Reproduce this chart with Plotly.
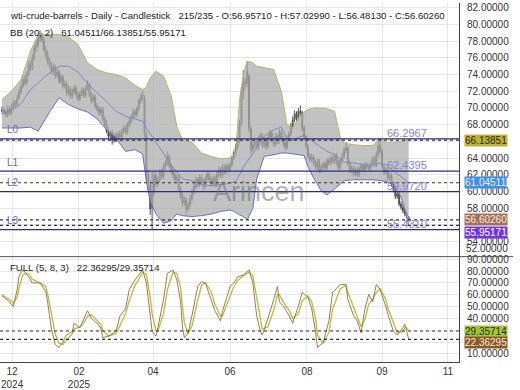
import plotly.graph_objects as go

title_text = "wti-crude-barrels - Daily - Candlestick   215/235 - O:56.95710 - H:57.02990 - L:56.48130 - C:56.60260"
bb_text = "BB (20, 2)   61.04511/66.13851/55.95171"
stoch_text = "FULL (5, 8, 3)   22.36295/29.35714"

opens = [
    69.6, 69.8, 69.5, 69.2, 69.9, 69.4, 70.1, 70.6, 70.4, 71.2,
    71.9, 72.6, 73.4, 73.0, 74.1, 75.2, 74.8, 76.0, 77.1, 77.6,
    78.3, 78.7, 78.1, 77.0, 76.3, 75.6, 75.1, 74.4, 74.9, 73.9,
    74.3, 73.2, 73.7, 72.6, 72.9, 71.8, 72.3, 71.4, 71.9, 72.4,
    71.6, 71.1, 71.7, 72.1, 71.5, 72.4, 72.8, 71.6, 70.9, 71.3,
    70.2, 69.9, 69.4, 69.8, 68.7, 68.1, 67.3, 66.6, 67.0, 66.1,
    66.7, 66.3, 66.9, 66.5, 67.2, 67.6, 67.1, 68.0, 68.4, 68.9,
    69.5, 69.2, 69.9, 70.8, 71.3, 71.2, 66.8, 61.9, 60.8, 58.1,
    59.8, 61.9, 60.9, 61.4, 62.3, 61.8, 63.0, 63.4, 64.2, 63.1,
    62.5, 62.0, 61.4, 61.7, 60.3, 59.4, 58.6, 59.0, 57.9, 58.4,
    59.2, 59.9, 60.6, 61.4, 60.8, 61.7, 61.2, 60.6, 61.5, 62.1,
    61.4, 60.9, 61.6, 60.8, 62.0, 62.6, 61.9, 62.9, 62.3, 63.0,
    62.6, 63.2, 64.0, 64.6, 65.3, 66.1, 68.2, 71.8, 73.2, 72.9,
    73.8, 67.5, 65.0, 65.6, 66.0, 65.3, 66.3, 66.7, 65.6, 66.2,
    65.4, 66.5, 67.0, 66.1, 65.7, 66.6, 66.0, 67.1, 66.4, 65.8,
    65.3, 66.3, 66.9, 67.8, 68.6, 69.3, 68.8, 69.6, 69.4, 67.6,
    66.5, 65.4, 64.2, 63.8, 64.1, 63.4, 62.9, 63.6, 62.5, 62.9,
    63.3, 62.8, 63.7, 63.4, 64.0, 63.6, 64.3, 63.5, 62.9, 63.7,
    64.2, 64.9, 65.2, 63.4, 62.5, 62.8, 62.1, 62.6, 62.0, 62.7,
    63.1, 62.6, 63.2, 63.0, 62.7, 63.4, 63.9, 63.2, 64.4, 65.5,
    64.8, 63.0, 62.3, 62.6, 61.6, 61.9, 60.9, 60.2, 59.4, 59.7,
    58.5, 58.1, 57.7, 57.3, 56.9571,
]
highs = [
    70.2, 70.1, 69.8, 70.3, 70.2, 70.5, 71.0, 70.9, 71.6, 72.3,
    72.9, 73.8, 73.9, 74.4, 75.6, 75.7, 76.4, 77.5, 78.1, 78.8,
    79.3, 79.0, 78.5, 77.4, 76.8, 76.0, 75.5, 75.3, 75.2, 74.8,
    74.6, 74.1, 74.0, 73.3, 73.2, 72.7, 72.6, 72.3, 72.8, 72.7,
    71.9, 72.0, 72.5, 72.4, 72.7, 73.3, 73.0, 71.9, 71.7, 71.6,
    70.6, 70.2, 70.1, 70.1, 69.0, 68.5, 67.7, 67.3, 67.4, 67.0,
    67.1, 67.2, 67.3, 67.5, 67.9, 67.9, 68.3, 68.8, 69.2, 69.9,
    69.8, 70.2, 71.1, 71.7, 72.0, 71.5, 67.2, 62.6, 61.3, 62.3,
    62.4, 62.3, 61.8, 62.7, 62.7, 63.4, 63.8, 64.8, 64.5, 63.4,
    62.9, 62.3, 62.0, 62.0, 60.6, 59.8, 59.4, 59.3, 58.7, 59.6,
    60.3, 61.0, 61.8, 61.7, 62.0, 62.0, 61.5, 61.9, 62.5, 62.4,
    61.8, 61.9, 61.9, 62.4, 63.0, 62.9, 63.3, 63.2, 63.4, 63.3,
    63.5, 64.3, 64.9, 65.7, 66.5, 68.6, 72.5, 74.5, 73.6, 75.6,
    74.1, 67.8, 66.0, 66.5, 66.4, 66.7, 67.1, 67.0, 66.6, 66.5,
    66.9, 67.4, 67.3, 66.5, 67.0, 66.9, 67.5, 67.4, 66.7, 66.2,
    66.7, 67.2, 68.2, 69.0, 69.7, 69.6, 70.0, 70.3, 69.7, 67.9,
    66.8, 65.7, 64.6, 64.5, 64.4, 63.7, 63.9, 63.9, 63.2, 63.6,
    63.6, 64.0, 64.0, 64.3, 64.3, 64.6, 64.6, 63.8, 64.0, 64.6,
    65.3, 65.9, 65.5, 63.7, 63.1, 63.1, 62.9, 62.9, 63.0, 63.4,
    63.4, 63.5, 63.5, 63.3, 63.7, 64.2, 64.2, 64.8, 65.9, 66.3,
    65.1, 63.3, 62.9, 62.9, 62.2, 62.2, 61.2, 60.5, 60.0, 60.0,
    58.8, 58.5, 58.0, 57.6, 57.0299,
]
lows = [
    69.3, 69.2, 68.9, 68.9, 69.1, 69.1, 69.8, 70.1, 70.1, 71.0,
    71.6, 72.3, 72.7, 72.7, 73.8, 74.4, 74.5, 75.7, 76.7, 77.2,
    77.9, 77.8, 76.7, 75.9, 75.2, 74.8, 74.0, 74.1, 73.5, 73.6,
    72.9, 72.9, 72.3, 72.3, 71.5, 71.5, 71.1, 71.1, 71.6, 71.3,
    70.8, 70.8, 71.4, 71.2, 71.2, 72.1, 71.3, 70.5, 70.6, 69.9,
    69.6, 69.1, 69.1, 68.4, 67.8, 67.0, 66.2, 66.3, 65.6, 65.8,
    65.9, 66.0, 66.2, 66.2, 66.9, 66.8, 66.8, 67.7, 68.1, 68.6,
    68.8, 68.9, 69.6, 70.5, 70.9, 66.5, 61.2, 59.8, 57.2, 55.4,
    59.4, 60.5, 60.5, 61.1, 61.4, 61.5, 62.7, 63.1, 62.8, 62.1,
    61.6, 61.1, 61.1, 60.0, 59.1, 58.2, 58.3, 57.3, 57.6, 58.1,
    58.9, 59.6, 60.3, 60.5, 60.5, 60.9, 60.2, 60.3, 61.2, 61.0,
    60.5, 60.6, 60.4, 60.5, 61.7, 61.6, 61.6, 62.0, 62.0, 62.3,
    62.3, 62.9, 63.7, 64.3, 65.0, 65.8, 67.9, 71.0, 72.2, 72.5,
    67.1, 64.4, 64.7, 65.2, 65.0, 64.9, 66.0, 65.2, 65.2, 65.0,
    65.1, 66.2, 65.8, 65.3, 65.4, 65.7, 65.7, 66.1, 65.4, 64.9,
    65.0, 66.0, 66.6, 67.5, 68.3, 68.4, 68.5, 69.0, 67.2, 66.1,
    65.1, 63.9, 63.5, 63.5, 63.1, 62.6, 62.6, 62.2, 62.2, 62.6,
    62.5, 62.5, 63.1, 63.1, 63.3, 63.3, 63.2, 62.6, 62.6, 63.4,
    63.9, 64.6, 63.1, 62.2, 62.2, 61.8, 61.8, 61.7, 61.7, 62.4,
    62.3, 62.3, 62.7, 62.4, 62.4, 63.1, 62.9, 62.9, 64.1, 64.5,
    62.7, 62.0, 62.0, 61.3, 61.3, 60.6, 59.9, 59.1, 59.1, 58.2,
    57.8, 57.4, 57.0, 56.8, 56.4813,
]
closes = [
    69.8, 69.5, 69.2, 69.9, 69.4, 70.1, 70.6, 70.4, 71.2, 71.9,
    72.6, 73.4, 73.0, 74.1, 75.2, 74.8, 76.0, 77.1, 77.6, 78.3,
    78.7, 78.1, 77.0, 76.3, 75.6, 75.1, 74.4, 74.9, 73.9, 74.3,
    73.2, 73.7, 72.6, 72.9, 71.8, 72.3, 71.4, 71.9, 72.4, 71.6,
    71.1, 71.7, 72.1, 71.5, 72.4, 72.8, 71.6, 70.9, 71.3, 70.2,
    69.9, 69.4, 69.8, 68.7, 68.1, 67.3, 66.6, 67.0, 66.1, 66.7,
    66.3, 66.9, 66.5, 67.2, 67.6, 67.1, 68.0, 68.4, 68.9, 69.5,
    69.2, 69.9, 70.8, 71.3, 71.6, 67.0, 61.9, 61.0, 57.9, 59.8,
    61.9, 60.9, 61.4, 62.3, 61.8, 63.0, 63.4, 64.2, 63.1, 62.5,
    62.0, 61.4, 61.7, 60.3, 59.4, 58.6, 59.0, 57.9, 58.4, 59.2,
    59.9, 60.6, 61.4, 60.8, 61.7, 61.2, 60.6, 61.5, 62.1, 61.4,
    60.9, 61.6, 60.8, 62.0, 62.6, 61.9, 62.9, 62.3, 63.0, 62.6,
    63.2, 64.0, 64.6, 65.3, 66.1, 68.2, 71.8, 73.2, 72.9, 74.4,
    67.5, 65.0, 65.6, 66.0, 65.3, 66.3, 66.7, 65.6, 66.2, 65.4,
    66.5, 67.0, 66.1, 65.7, 66.6, 66.0, 67.1, 66.4, 65.8, 65.3,
    66.3, 66.9, 67.8, 68.6, 69.3, 68.8, 69.6, 69.4, 67.6, 66.5,
    65.4, 64.2, 63.8, 64.1, 63.4, 62.9, 63.6, 62.5, 62.9, 63.3,
    62.8, 63.7, 63.4, 64.0, 63.6, 64.3, 63.5, 62.9, 63.7, 64.2,
    64.9, 65.2, 63.4, 62.5, 62.8, 62.1, 62.6, 62.0, 62.7, 63.1,
    62.6, 63.2, 63.0, 62.7, 63.4, 63.9, 63.2, 64.4, 65.5, 64.8,
    63.0, 62.3, 62.6, 61.6, 61.9, 60.9, 60.2, 59.4, 59.7, 58.5,
    58.1, 57.7, 57.3, 57.1, 56.6026,
]
bar_idx = list(range(len(closes)))

bb_idx = [0, 5, 10, 15, 19, 25, 30, 35, 40, 45, 50, 55, 60, 65, 70, 74, 76, 78, 81, 85,
          89, 92, 95, 100, 105, 110, 115, 120, 123, 125, 127, 129, 132, 134, 138, 143, 147, 150, 153, 156,
          159, 161, 164, 168, 171, 175, 178, 180, 185, 190, 195, 199, 202, 206, 210, 212, 214]
bb_upper = [71.0, 72.0, 73.4, 76.8, 78.8, 78.8, 78.8, 78.5, 77.6, 75.4,
            74.6, 74.2, 74.0, 73.6, 72.7, 72.2, 72.5, 73.6, 74.4, 73.8,
            71.5, 67.8, 66.1, 65.9, 64.6, 64.2, 63.9, 64.0, 64.7, 71.0,
            74.0, 75.6, 75.4, 75.0, 74.8, 74.6, 72.0, 68.0, 67.6, 68.8,
            69.5, 69.8, 70.0, 70.0, 69.9, 69.6, 66.5, 65.8, 65.6, 65.5,
            65.5, 66.3, 65.9, 65.9, 66.0, 66.1, 66.13851]
bb_lower = [67.6, 67.6, 67.6, 67.7, 67.2, 69.5, 71.2, 70.4, 69.9, 69.5,
            68.7, 67.4, 66.4, 64.8, 65.0, 64.5, 61.2, 58.8, 57.3, 56.2,
            56.5, 57.3, 57.1, 57.0, 57.1, 57.3, 57.6, 57.8, 57.5, 57.2,
            57.0, 56.6, 58.0, 61.5, 64.2, 64.4, 64.6, 64.6, 64.5, 64.4,
            64.3, 63.0, 61.6, 60.1, 59.6, 60.3, 60.9, 61.3, 61.4, 61.4,
            61.4, 61.3, 61.2, 60.8, 59.3, 57.8, 55.95171]
bb_mid = [69.3, 69.7, 70.5, 72.2, 73.0, 74.2, 75.0, 75.0, 74.3, 72.9,
          71.8, 70.8, 69.6, 69.0, 68.7, 68.4, 67.6, 66.9, 66.0, 64.6,
          63.2, 62.3, 61.5, 61.3, 60.8, 60.7, 60.8, 61.0, 61.2, 62.0,
          62.9, 63.6, 64.5, 65.3, 66.6, 67.4, 67.7, 66.3, 66.1, 66.5,
          66.7, 66.4, 65.9, 65.2, 64.8, 64.4, 63.8, 63.5, 63.4, 63.2,
          63.1, 63.4, 63.2, 62.5, 61.8, 61.4, 61.04511]

st_idx = [0, 4, 6, 8, 9, 11, 14, 16, 20, 23,
          24, 26, 28, 30, 32, 34, 37, 38, 41, 43,
          45, 47, 50, 52, 53, 56, 60, 62, 65, 67,
          70, 73, 74, 76, 78, 79, 81, 82, 85, 87,
          90, 92, 94, 95, 96, 98, 100, 103, 105, 107,
          110, 112, 115, 116, 120, 122, 124, 127, 130, 132,
          134, 136, 137, 140, 143, 145, 146, 148, 151, 153,
          156, 158, 161, 163, 165, 166, 169, 172, 174, 178,
          181, 182, 185, 187, 189, 191, 193, 195, 197, 199,
          202, 203, 206, 208, 211, 212, 213, 214]
st_k = [59, 54, 50, 64.5, 76, 81, 75, 70, 70, 63,
        54, 31, 18, 15.5, 20, 26, 29, 36, 32, 40,
        46.5, 40, 36, 32, 23.7, 25, 29, 41.6, 48, 64.5,
        72.6, 79, 81, 70, 42.6, 29, 25, 32, 56, 78,
        81, 72.6, 54, 32, 23.7, 27.8, 42.6, 67, 71, 70,
        56, 46.5, 38, 45.7, 67, 70, 75, 76.7, 81, 70,
        42.6, 29, 26, 40, 56, 67, 54, 50.6, 42.6, 36,
        50.6, 62, 58, 48, 29, 15.5, 19.6, 37.6, 62, 68.6,
        68.6, 56, 42.6, 37.6, 27.8, 48, 60.4, 54, 68.6, 64.5,
        50, 44, 29, 26, 32, 35, 29, 22.36295]
st_d = [60, 56, 53, 58, 66, 77, 78, 73, 70, 67,
        61, 44, 27, 19, 18, 22, 27, 31, 33, 36,
        42, 43, 38, 35, 30, 25, 27, 34, 44, 55,
        68, 76, 79, 77, 58, 44, 30, 29, 44, 64,
        79, 78, 66, 50, 36, 27, 34, 55, 68, 70,
        63, 52, 42, 42, 58, 67, 72, 76, 79, 76,
        58, 38, 31, 33, 47, 60, 60, 54, 47, 40,
        44, 55, 59, 54, 40, 26, 19, 28, 48, 65,
        68, 62, 50, 41, 33, 39, 52, 56, 62, 65,
        56, 49, 36, 28, 29, 32, 32, 29.35714]

level_names = ["L0", "L1", "L2", "L3"]
level_vals = [66.2967, 62.4395, 59.9720, 55.4310]
level_text = ["66.2967", "62.4395", "59.9720", "55.4310"]

price_marks = [66.13851, 61.04511, 56.60260, 55.95171]
price_mark_text = ["66.13851", "61.04511", "56.60260", "55.95171"]
price_mark_bg = ["#bfb23c", "#3f8fe6", "#a3705c", "#7436dc"]
price_mark_fg = ["#2a2a10", "#e8f4ff", "#f6e6da", "#ffffff"]
price_mark_shift = [0, 0, 0, -7]

stoch_marks = [29.35714, 22.36295]
stoch_mark_text = ["29.35714", "22.36295"]
stoch_mark_bg = ["#a4c43a", "#8a5a26"]
stoch_mark_fg = ["#2a3010", "#f4e8d8"]
stoch_mark_shift = [0, -3]

tick_idx = [5.3, 40.5, 79.5, 120, 160.5, 200, 234.7]
tick_text = ["12<br>2024", "02<br>2025", "04", "06", "08", "09", "11"]

price_ticks = list(range(54, 84, 2))
price_tick_text = ["" if v in (56, 66) else f"{v:.5f}" for v in price_ticks]
stoch_ticks = list(range(10, 100, 10))
stoch_tick_text = ["" if v in (20, 30) else f"{v:.5f}" for v in stoch_ticks]

FONT = "Liberation Sans, Arial, sans-serif"
XR = [-1.05, 240.5]
XD = [0, 0.8827]
MAIN_DOM = [0.3308, 1.0]
ST_DOM = [0.0538, 0.3308]

fig = go.Figure()

fig.add_trace(go.Scatter(x=bb_idx, y=bb_lower, mode="lines",
                         line=dict(color="#6c6cc4", width=1), xaxis="x", yaxis="y",
                         hoverinfo="skip", showlegend=False))
fig.add_trace(go.Scatter(x=bb_idx, y=bb_upper, mode="lines", fill="tonexty",
                         fillcolor="rgba(170,170,170,0.72)",
                         line=dict(color="#b9b466", width=1), xaxis="x", yaxis="y",
                         hoverinfo="skip", showlegend=False))
fig.add_trace(go.Scatter(x=bb_idx, y=bb_mid, mode="lines",
                         line=dict(color="#8686c6", width=1), xaxis="x", yaxis="y",
                         hoverinfo="skip", showlegend=False))

fig.add_trace(go.Candlestick(
    x=bar_idx, open=opens, high=highs, low=lows, close=closes,
    xaxis="x", yaxis="y", showlegend=False,
    increasing=dict(line=dict(color="#4e5e4e", width=1), fillcolor="#6f9f6f"),
    decreasing=dict(line=dict(color="#5e4a4a", width=1), fillcolor="#b86a6a"),
))

fig.add_trace(go.Scatter(x=st_idx, y=st_d, mode="lines",
                         line=dict(color="#b3c24e", width=1.4), xaxis="x2", yaxis="y2",
                         hoverinfo="skip", showlegend=False))
fig.add_trace(go.Scatter(x=st_idx, y=st_k, mode="lines",
                         line=dict(color="#9a6a3a", width=0.9), xaxis="x2", yaxis="y2",
                         hoverinfo="skip", showlegend=False))

shapes = []
for v in level_vals:
    shapes.append(dict(type="line", xref="paper", x0=XD[0], x1=XD[1], yref="y", y0=v, y1=v,
                       line=dict(color="#2b2b8c", width=1.2)))
for v in price_marks:
    shapes.append(dict(type="line", xref="paper", x0=XD[0], x1=XD[1], yref="y", y0=v, y1=v,
                       line=dict(color="#333333", width=1.2, dash="3px,3px")))
for v in stoch_marks:
    shapes.append(dict(type="line", xref="paper", x0=XD[0], x1=XD[1], yref="y2", y0=v, y1=v,
                       line=dict(color="#333333", width=1.2, dash="3px,3px")))
shapes.append(dict(type="line", xref="paper", x0=0, x1=0.987, yref="paper",
                   y0=MAIN_DOM[0], y1=MAIN_DOM[0], line=dict(color="#555555", width=1)))

ann = []
ann.append(dict(text=title_text, xref="paper", yref="paper", x=8 / 520, y=1 - 13 / 390,
                xanchor="left", yanchor="middle", showarrow=False,
                font=dict(family=FONT, size=9.6, color="#222222")))
ann.append(dict(text=bb_text, xref="paper", yref="paper", x=8 / 520, y=1 - 30 / 390,
                xanchor="left", yanchor="middle", showarrow=False,
                font=dict(family=FONT, size=9.6, color="#222222")))
ann.append(dict(text=stoch_text, xref="paper", yref="paper", x=8 / 520, y=1 - 272 / 390,
                xanchor="left", yanchor="middle", showarrow=False,
                font=dict(family=FONT, size=9.6, color="#222222")))
ann.append(dict(text="Arincen", xref="paper", yref="paper", x=259 / 520, y=1 - 194 / 390,
                xanchor="center", yanchor="middle", showarrow=False,
                font=dict(family=FONT, size=27, color="rgba(110,110,110,0.55)")))

for name, v in zip(level_names, level_vals):
    ann.append(dict(text=name, xref="paper", yref="y", x=5 / 520, y=v, xanchor="left",
                    yanchor="middle", yshift=9, showarrow=False,
                    font=dict(family=FONT, size=10, color="#6a6aaa")))
for t, v in zip(level_text, level_vals):
    ann.append(dict(text=t, xref="paper", yref="y", x=385 / 520, y=v, xanchor="left",
                    yanchor="middle", yshift=6, showarrow=False,
                    font=dict(family=FONT, size=11, color="#8282cc")))

for t, v, bg, fg, sh in zip(price_mark_text, price_marks, price_mark_bg, price_mark_fg, price_mark_shift):
    ann.append(dict(text=t, xref="paper", yref="y", x=XD[1], xshift=5, y=v, yshift=sh,
                    xanchor="left", yanchor="middle", showarrow=False, bgcolor=bg,
                    borderpad=0, font=dict(family=FONT, size=10, color=fg)))
for t, v, bg, fg, sh in zip(stoch_mark_text, stoch_marks, stoch_mark_bg, stoch_mark_fg, stoch_mark_shift):
    ann.append(dict(text=t, xref="paper", yref="y2", x=XD[1], xshift=5, y=v, yshift=sh,
                    xanchor="left", yanchor="middle", showarrow=False, bgcolor=bg,
                    borderpad=0, font=dict(family=FONT, size=10, color=fg)))
ann.append(dict(text="52.00000", xref="paper", yref="paper", x=XD[1], xshift=5, y=1 - 253 / 390,
                xanchor="left", yanchor="middle", showarrow=False,
                font=dict(family=FONT, size=10, color="#333333")))

grid = "#e6e6e6"
fig.update_layout(
    width=520, height=390, margin=dict(l=0, r=0, t=0, b=0),
    paper_bgcolor="white", plot_bgcolor="white", showlegend=False,
    font=dict(family=FONT, size=10, color="#333333"),
    xaxis=dict(domain=XD, range=XR, anchor="y", tickvals=tick_idx, ticktext=tick_text,
               showticklabels=False, showgrid=True, gridcolor=grid, gridwidth=1,
               zeroline=False, rangeslider=dict(visible=False), showline=False),
    xaxis2=dict(domain=XD, range=XR, anchor="y2", matches="x", tickvals=tick_idx,
                ticktext=tick_text, showticklabels=True, showgrid=True, gridcolor=grid,
                zeroline=False, showline=True, linecolor="#444444", linewidth=1,
                tickfont=dict(family=FONT, size=10, color="#333333"), ticks=""),
    yaxis=dict(domain=MAIN_DOM, range=[52.2, 82.56], side="right", anchor="x",
               tickvals=price_ticks, ticktext=price_tick_text, showgrid=True, gridcolor=grid,
               zeroline=False, showline=True, linecolor="#444444", linewidth=1, ticks="",
               ticklabelstandoff=5, tickfont=dict(family=FONT, size=10, color="#333333")),
    yaxis2=dict(domain=ST_DOM, range=[3.5, 92.2], side="right", anchor="x2",
                tickvals=stoch_ticks, ticktext=stoch_tick_text, showgrid=True, gridcolor=grid,
                zeroline=False, showline=True, linecolor="#444444", linewidth=1, ticks="",
                ticklabelstandoff=5, tickfont=dict(family=FONT, size=10, color="#333333")),
    shapes=shapes, annotations=ann,
)

fig.write_html("out.html")
